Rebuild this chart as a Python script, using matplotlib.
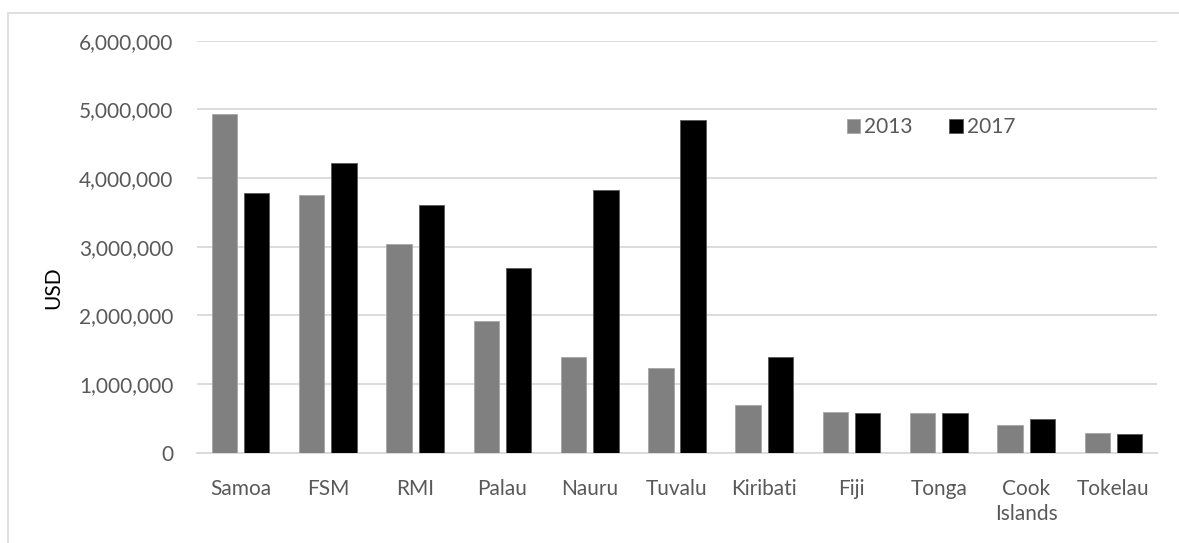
import matplotlib
matplotlib.use("Agg")
import matplotlib.pyplot as plt
from matplotlib.patches import Rectangle
from matplotlib.ticker import FuncFormatter
import numpy as np

plt.rcParams['font.family'] = ['Lato', 'DejaVu Sans']

countries = ["Samoa", "FSM", "RMI", "Palau", "Nauru", "Tuvalu", "Kiribati",
             "Fiji", "Tonga", "Cook\nIslands", "Tokelau"]
usd_2013 = [4934000, 3754000, 3035000, 1923000, 1389000, 1234000, 690000,
            593000, 573000, 398000, 291000]
usd_2017 = [3778000, 4225000, 3604000, 2686000, 3827000, 4847000, 1399000,
            573000, 573000, 486000, 272000]
y_ticks = [0, 1000000, 2000000, 3000000, 4000000, 5000000, 6000000]

W, H = 1179, 543
FS = 15
fig = plt.figure(figsize=(W / 100, H / 100), dpi=100)

# light outer chart frame
fig.patches.append(Rectangle((8 / W, -0.05), 1.1, (H - 13) / H + 0.05,
                             transform=fig.transFigure, fill=False,
                             edgecolor="#d9d9d9", linewidth=1.2, zorder=0))

ax = fig.add_axes([197 / W, (H - 452.7) / H, (1157 - 197) / W, (452.7 - 40.6) / H])

x = np.arange(len(countries))
bw = 0.29
off = 0.185
ax.bar(x - off, usd_2013, bw, color="#808080", edgecolor="#a6a6a6",
       linewidth=0.6, label="2013", zorder=3)
ax.bar(x + off, usd_2017, bw, color="#000000", edgecolor="#595959",
       linewidth=0.6, label="2017", zorder=3)

ax.set_xlim(-0.5, len(countries) - 0.5)
ax.set_ylim(0, 6000000)
ax.set_yticks(y_ticks)
ax.yaxis.set_major_formatter(FuncFormatter(lambda v, p: f"{int(v):,}"))
ax.set_xticks(x)
ax.set_xticklabels(countries, linespacing=1.3)

ax.grid(axis="y", color="#d9d9d9", linewidth=1.3, zorder=0)
for s in ["top", "right", "left"]:
    ax.spines[s].set_visible(False)
ax.spines["bottom"].set_color("#d9d9d9")
ax.spines["bottom"].set_linewidth(1.3)
ax.tick_params(axis="both", length=0, labelsize=FS, colors="#595959")
ax.tick_params(axis="y", pad=17)
ax.tick_params(axis="x", pad=19)

fig.text(53 / W, 1 - 288 / H, "USD", rotation=90, ha="center", va="center",
         fontsize=FS, color="#000000")

ax.legend(loc="center", bbox_to_anchor=(931 / W, (H - 127) / H),
          bbox_transform=fig.transFigure, ncol=2, frameon=False,
          fontsize=FS, labelcolor="#595959", handlelength=0.65,
          handleheight=0.65, handletextpad=0.2, columnspacing=1.75,
          borderpad=0, borderaxespad=0)

fig.savefig("out.png", dpi=100)
